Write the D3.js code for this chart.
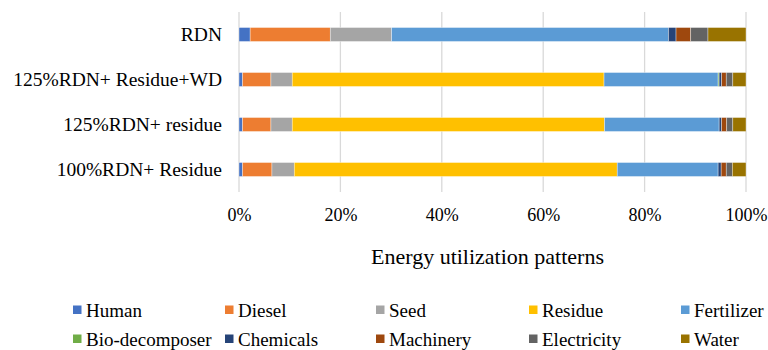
<!DOCTYPE html>
<html>
<head>
<meta charset="utf-8">
<script src="https://cdn.jsdelivr.net/npm/d3@7"></script>
<style>
  html, body { margin: 0; padding: 0; background: #fff; }
  svg text { font-family: "Liberation Serif", "Times New Roman", serif; fill: #000; }
</style>
</head>
<body>
<svg id="chart" width="768" height="350"></svg>
<script>
// Treatments, top to bottom
const categories = ["RDN", "125%RDN+ Residue+WD", "125%RDN+ residue", "100%RDN+ Residue"];

// Energy input components (share of total, %)
const components = ["Human", "Diesel", "Seed", "Residue", "Fertilizer",
                    "Bio-decomposer", "Chemicals", "Machinery", "Electricity", "Water"];

const human        = [2.2, 0.7, 0.7, 0.7];
const diesel       = [15.8, 5.6, 5.6, 5.8];
const seed         = [12.1, 4.2, 4.2, 4.4];
const residue      = [0, 61.5, 61.6, 63.7];
const fertilizer   = [54.6, 22.5, 22.6, 19.9];
const bioDecomposer= [0, 0.2, 0, 0];
const chemicals    = [1.5, 0.5, 0.5, 0.6];
const machinery    = [2.9, 0.9, 1.0, 1.0];
const electricity  = [3.4, 1.3, 1.2, 1.2];
const water        = [7.5, 2.6, 2.6, 2.7];

const tickValues = [0, 0.2, 0.4, 0.6, 0.8, 1.0];
const axisTitle = "Energy utilization patterns";

const colors = ["#4472C4", "#ED7D31", "#A5A5A5", "#FFC000", "#5B9BD5",
                "#70AD47", "#264478", "#9E480E", "#636363", "#997300"];

const seriesValues = [human, diesel, seed, residue, fertilizer,
                      bioDecomposer, chemicals, machinery, electricity, water];

// Build rows and normalise each treatment to 100%
const rows = categories.map((c, i) => {
  const row = { category: c };
  let total = 0;
  components.forEach((k, j) => { total += seriesValues[j][i]; });
  components.forEach((k, j) => { row[k] = seriesValues[j][i] / total; });
  return row;
});

const stack = d3.stack().keys(components);
const layers = stack(rows);

const svg = d3.select("#chart");
const plot = { left: 239, right: 746, top: 12, bottom: 192 };

const x = d3.scaleLinear().domain([0, 1]).range([plot.left, plot.right]);
const y = d3.scaleBand().domain(categories).range([plot.top, plot.bottom]).paddingInner(0.69).paddingOuter(0.345);
const color = d3.scaleOrdinal().domain(components).range(colors);

// Vertical gridlines
svg.append("g")
  .selectAll("line")
  .data(tickValues)
  .join("line")
  .attr("x1", d => x(d)).attr("x2", d => x(d))
  .attr("y1", plot.top).attr("y2", plot.bottom)
  .attr("stroke", "#d9d9d9").attr("stroke-width", 1.3);

// Stacked bars
svg.append("g")
  .selectAll("g")
  .data(layers)
  .join("g")
  .attr("fill", d => color(d.key))
  .selectAll("rect")
  .data(d => d)
  .join("rect")
  .attr("x", d => x(d[0]))
  .attr("y", d => y(d.data.category))
  .attr("width", d => Math.max(0, x(d[1]) - x(d[0])))
  .attr("height", y.bandwidth())
  .attr("stroke", "#ffffff")
  .attr("stroke-opacity", 0.6)
  .attr("stroke-width", 0.6);

// Category labels
const yAxis = svg.append("g")
  .attr("transform", `translate(${plot.left},0)`)
  .call(d3.axisLeft(y).tickSize(0).tickPadding(17));
yAxis.select(".domain").remove();
yAxis.selectAll("text")
  .style("font-family", "'Liberation Serif', 'Times New Roman', serif")
  .style("font-size", "19.5px")
  .attr("fill", "#000");

// Percentage ticks
const xAxis = svg.append("g")
  .attr("transform", `translate(0,${plot.bottom})`)
  .call(d3.axisBottom(x).tickValues(tickValues).tickFormat(d3.format(".0%")).tickSize(0).tickPadding(16));
xAxis.select(".domain").remove();
xAxis.selectAll("text")
  .style("font-family", "'Liberation Serif', 'Times New Roman', serif")
  .style("font-size", "18px")
  .attr("fill", "#000");

// Axis title
svg.append("text")
  .attr("x", x(0.5) - 5).attr("y", 264)
  .attr("text-anchor", "middle")
  .style("font-size", "22px")
  .text(axisTitle);

// Legend: five columns, two rows
const legend = svg.append("g");
const colX = [73, 225, 376, 529, 681];
const rowY = [310, 339];
const item = legend.selectAll("g")
  .data(components)
  .join("g")
  .attr("transform", (d, i) => `translate(${colX[i % 5]},${rowY[Math.floor(i / 5)]})`);
item.append("rect")
  .attr("x", 0).attr("y", -4.5).attr("width", 8.5).attr("height", 8.5)
  .attr("fill", d => color(d));
item.append("text")
  .attr("x", 13).attr("y", 0).attr("dy", "0.35em")
  .style("font-size", "19px")
  .text(d => d);
</script>
</body>
</html>
